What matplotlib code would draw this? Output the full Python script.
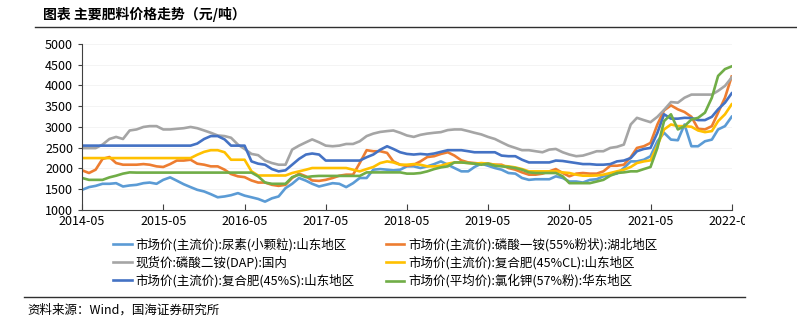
import numpy as np
import pandas as pd
import matplotlib.pyplot as plt
import matplotlib.dates as mdates
from matplotlib.lines import Line2D
from matplotlib.transforms import Bbox

plt.rcParams['font.family'] = ['Noto Sans CJK SC', 'DejaVu Sans']

# monthly prices, 2014-05 .. 2022-05 (yuan/ton)
months = pd.date_range('2014-05-01', '2022-05-01', freq='MS')

urea = [1485, 1550, 1580, 1630, 1630, 1645, 1565, 1590, 1605, 1645, 1660, 1630,
        1725, 1785, 1705, 1620, 1550, 1485, 1445, 1380, 1305, 1325, 1355, 1405,
        1345, 1305, 1265, 1200, 1280, 1325, 1525, 1630, 1770, 1705, 1630, 1565,
        1605, 1645, 1630, 1550, 1645, 1770, 1770, 1970, 1985, 1970, 1955, 1970,
        2050, 2050, 2010, 2050, 2105, 2170, 2090, 2010, 1930, 1930, 2035, 2115,
        2065, 2010, 1970, 1890, 1875, 1770, 1725, 1740, 1740, 1740, 1810, 1770,
        1685, 1685, 1660, 1725, 1740, 1810, 1850, 1875, 2010, 2170, 2170, 2210,
        2295, 2655, 2860, 2695, 2680, 3060, 2535, 2535, 2655, 2695, 2940, 3020,
        3245]
map55 = [1955, 1890, 1970, 2230, 2275, 2130, 2090, 2090, 2090, 2105, 2090, 2050,
         2035, 2105, 2190, 2190, 2210, 2115, 2090, 2050, 2050, 1970, 1865, 1810,
         1790, 1710, 1660, 1660, 1605, 1580, 1605, 1770, 1875, 1810, 1710, 1700,
         1725, 1770, 1825, 1850, 1850, 2130, 2440, 2415, 2415, 2375, 2170, 2090,
         2065, 2090, 2170, 2275, 2295, 2350, 2390, 2310, 2195, 2145, 2130, 2115,
         2115, 2090, 2090, 2010, 1970, 1905, 1850, 1850, 1875, 1930, 1985, 1890,
         1810, 1875, 1890, 1875, 1875, 1930, 2065, 2065, 2090, 2270, 2495, 2535,
         2615, 3060, 3400, 3520, 3425, 3360, 3245, 2955, 2940, 3020, 3345, 3705,
         4215]
dap = [2490, 2490, 2490, 2575, 2710, 2760, 2710, 2915, 2940, 3000, 3020, 3020,
       2940, 2940, 2955, 2970, 3000, 2970, 2915, 2860, 2795, 2780, 2740, 2575,
       2470, 2350, 2320, 2190, 2130, 2090, 2090, 2455, 2550, 2630, 2700, 2630,
       2550, 2535, 2550, 2590, 2590, 2655, 2780, 2840, 2880, 2900, 2915, 2860,
       2795, 2760, 2810, 2840, 2860, 2875, 2925, 2940, 2940, 2900, 2860, 2820,
       2760, 2710, 2630, 2550, 2495, 2440, 2440, 2415, 2390, 2455, 2470, 2390,
       2335, 2295, 2310, 2360, 2415, 2415, 2495, 2520, 2575, 3060, 3220, 3165,
       3115, 3245, 3410, 3600, 3585, 3705, 3780, 3780, 3780, 3780, 3870, 3990,
       4190]
npk_cl = [2250, 2250, 2250, 2250, 2250, 2250, 2250, 2250, 2250, 2250, 2250, 2250,
          2250, 2250, 2250, 2250, 2250, 2330, 2400, 2440, 2440, 2390, 2210, 2210,
          2210, 1930, 1830, 1830, 1830, 1830, 1830, 1890, 1930, 1970, 2010, 2010,
          2010, 2010, 2010, 2010, 1970, 1930, 1985, 2035, 2130, 2170, 2145, 2090,
          2090, 2105, 2090, 2050, 2050, 2065, 2115, 2145, 2145, 2130, 2115, 2130,
          2115, 2090, 2065, 2050, 2025, 1985, 1930, 1930, 1930, 1930, 1930, 1905,
          1890, 1850, 1825, 1825, 1830, 1850, 1890, 1930, 1970, 2035, 2130, 2170,
          2195, 2550, 2940, 3060, 3020, 3020, 3005, 2915, 2875, 2900, 3140, 3305,
          3545]
npk_s = [2550, 2550, 2550, 2550, 2550, 2550, 2550, 2550, 2550, 2550, 2550, 2550,
         2550, 2550, 2550, 2550, 2550, 2600, 2710, 2780, 2780, 2700, 2550, 2550,
         2550, 2170, 2115, 2090, 1985, 1930, 1955, 2090, 2230, 2335, 2360, 2335,
         2190, 2190, 2190, 2190, 2190, 2190, 2270, 2335, 2450, 2535, 2470, 2390,
         2350, 2335, 2350, 2335, 2360, 2400, 2440, 2440, 2440, 2415, 2390, 2390,
         2390, 2390, 2310, 2295, 2295, 2210, 2145, 2145, 2145, 2145, 2190, 2180,
         2155, 2130, 2105, 2105, 2090, 2090, 2105, 2170, 2190, 2250, 2415, 2470,
         2495, 2860, 3305, 3200, 3200, 3220, 3215, 3165, 3165, 3245, 3425, 3585,
         3810]
kcl = [1770, 1725, 1725, 1725, 1785, 1825, 1875, 1905, 1900, 1900, 1900, 1900,
       1900, 1900, 1900, 1900, 1900, 1900, 1900, 1900, 1900, 1900, 1900, 1900,
       1900, 1900, 1810, 1660, 1630, 1630, 1630, 1790, 1850, 1790, 1810, 1820,
       1820, 1820, 1820, 1820, 1820, 1820, 1905, 1905, 1905, 1905, 1905, 1905,
       1875, 1875, 1890, 1930, 1985, 2025, 2050, 2145, 2145, 2130, 2115, 2090,
       2115, 2065, 2050, 2035, 2010, 1970, 1905, 1890, 1890, 1890, 1890, 1810,
       1645, 1645, 1645, 1645, 1685, 1725, 1825, 1890, 1905, 1930, 1930, 1985,
       2035, 2495, 3140, 3305, 2940, 3020, 3180, 3220, 3345, 3705, 4230, 4395,
       4460]

names = ['市场价(主流价):尿素(小颗粒):山东地区',
         '市场价(主流价):磷酸一铵(55%粉状):湖北地区',
         '现货价:磷酸二铵(DAP):国内',
         '市场价(主流价):复合肥(45%CL):山东地区',
         '市场价(主流价):复合肥(45%S):山东地区',
         '市场价(平均价):氯化钾(57%粉):华东地区']
colors = ['#5B9BD5', '#ED7D31', '#A5A5A5', '#FFC000', '#4472C4', '#70AD47']
series = [urea, map55, dap, npk_cl, npk_s, kcl]

fig = plt.figure(figsize=(7.97, 3.21), dpi=100)
ax = fig.add_axes([0.103, 0.346, 0.815, 0.517])

lines = []
for vals, name, c in zip(series, names, colors):
    ln, = ax.plot(months, vals, color=c, lw=1.9, label=name)
    lines.append(ln)

ax.set_ylim(1000, 5000)
ax.set_yticks(np.arange(1000, 5001, 500))
ax.set_xlim(months[0], months[-1])
ax.xaxis.set_major_locator(mdates.MonthLocator(bymonth=5))
ax.xaxis.set_major_formatter(mdates.DateFormatter('%Y-%m'))
ax.grid(axis='y', color='#f2f2f2', lw=0.6)
for s in ['top', 'right']:
    ax.spines[s].set_visible(False)
for s in ['left', 'bottom']:
    ax.spines[s].set_color('#404040')
    ax.spines[s].set_linewidth(0.8)
ax.tick_params(axis='y', direction='out', length=3, labelsize=9, colors='#404040', labelcolor='black')
ax.tick_params(axis='x', direction='in', length=4, labelsize=9, colors='#404040', labelcolor='black', pad=4)

fig.canvas.draw()
clip = Bbox.from_extents(0, 0, 745, 321)
for lbl in ax.get_xticklabels():
    lbl.set_clip_on(True)
    lbl.set_clip_box(clip)

order = [0, 2, 4, 1, 3, 5]
ax.legend([lines[i] for i in order], [names[i] for i in order],
          ncol=2, loc='upper left', bbox_to_anchor=(0.03, -0.10),
          frameon=False, fontsize=9, handlelength=1.5, handletextpad=0.3,
          columnspacing=2.5, labelspacing=0.38)

fig.text(0.054, 0.955, '图表 主要肥料价格走势（元/吨）', fontsize=10,
         fontweight='bold', va='center', ha='left')
fig.add_artist(Line2D([0.044, 1.0], [0.916, 0.916], color='#303030', lw=1.0))
fig.add_artist(Line2D([0.03, 0.935], [0.075, 0.075], color='#303030', lw=1.0))
fig.text(0.035, 0.035, '资料来源：Wind，国海证券研究所', fontsize=9, va='center', ha='left')

fig.savefig('out.png', dpi=100)
